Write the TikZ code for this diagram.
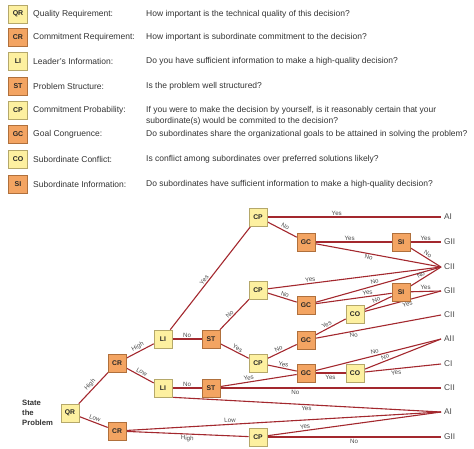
\documentclass[tikz,border=0pt]{standalone}
\usepackage{fontspec}
\setmainfont{Liberation Sans}
\usetikzlibrary{backgrounds}
\definecolor{ylw}{HTML}{FDF0A0}
\definecolor{ylwb}{HTML}{B5A86A}
\definecolor{org}{HTML}{F3A462}
\definecolor{orgb}{HTML}{B0703C}
\definecolor{ln}{HTML}{A3282E}
\definecolor{labc}{HTML}{4A4A4A}
\definecolor{txtc}{HTML}{333333}
\begin{document}
\begin{tikzpicture}[x=1pt,y=-1pt,
 boxbase/.style={line width=0.6pt, minimum width=18pt, minimum height=18pt, inner sep=0pt, font=\fontsize{6.8}{7}\selectfont\bfseries, text=black!85},
 ybox/.style={boxbase, draw=ylwb, fill=ylw},
 obox/.style={boxbase, draw=orgb, fill=org},
 kbox/.style={minimum width=19pt, minimum height=18pt, font=\fontsize{7}{7}\selectfont\bfseries},
 edge/.style={draw=ln, line width=1.1pt},
 lbl/.style={font=\fontsize{6.2}{6.5}\selectfont, text=labc, inner sep=1.2pt, sloped},
 outc/.style={anchor=west, font=\fontsize{8.3}{9}\selectfont, text=labc, inner xsep=3pt, inner ysep=0pt},
 legt/.style={anchor=west, font=\fontsize{8.5}{9}\selectfont, text=txtc, inner sep=0pt},
]
\useasboundingbox (0,0) rectangle (474,448);

% legend
\node[ybox,kbox] (kQR) at (18,14) {QR};
\node[legt] (nQR) at (33,14) {Quality Requirement:};
\node[legt] (qQR) at (146,14) {How important is the technical quality of this decision?};
\node[obox,kbox] (kCR) at (18,37) {CR};
\node[legt] (nCR) at (33,37) {Commitment Requirement:};
\node[legt] (qCR) at (146,37) {How important is subordinate commitment to the decision?};
\node[ybox,kbox] (kLI) at (18,61) {LI};
\node[legt] (nLI) at (33,61) {Leader’s Information:};
\node[legt] (qLI) at (146,61) {Do you have sufficient information to make a high-quality decision?};
\node[obox,kbox] (kST) at (18,86) {ST};
\node[legt] (nST) at (33,86) {Problem Structure:};
\node[legt] (qST) at (146,86) {Is the problem well structured?};
\node[ybox,kbox] (kCP) at (18,110) {CP};
\node[legt] (nCP) at (33,110) {Commitment Probability:};
\node[legt] (qCP) at (146,110) {If you were to make the decision by yourself, is it reasonably certain that your};
\node[legt] (qCPb) at (146,121.5) {subordinate(s) would be commited to the decision?};
\node[obox,kbox] (kGC) at (18,134) {GC};
\node[legt] (nGC) at (33,134) {Goal Congruence:};
\node[legt] (qGC) at (146,134) {Do subordinates share the organizational goals to be attained in solving the problem?};
\node[ybox,kbox] (kCO) at (18,159) {CO};
\node[legt] (nCO) at (33,159) {Subordinate Conflict:};
\node[legt] (qCO) at (146,159) {Is conflict among subordinates over preferred solutions likely?};
\node[obox,kbox] (kSI) at (18,184) {SI};
\node[legt] (nSI) at (33,184) {Subordinate Information:};
\node[legt] (qSI) at (146,184) {Do subordinates have sufficient information to make a high-quality decision?};

% start text
\node[anchor=west, align=left, font=\fontsize{7.7}{10}\selectfont\bfseries, text=txtc, inner sep=0pt] (start) at (22,413) {State\\the\\Problem};

% tree nodes
\node[ybox] (QR) at (70,413) {QR};
\node[obox] (CRh) at (117,363) {CR};
\node[obox] (CRl) at (117,431) {CR};
\node[ybox] (LIu) at (163,339) {LI};
\node[ybox] (LIl) at (163,388) {LI};
\node[obox] (STu) at (211,339) {ST};
\node[obox] (STl) at (211,388) {ST};
\node[ybox] (CP1) at (258,217) {CP};
\node[obox] (GC1) at (306,242) {GC};
\node[obox] (SI1) at (401,242) {SI};
\node[ybox] (CP2) at (258,290) {CP};
\node[obox] (GC2) at (306,305) {GC};
\node[obox] (SI2) at (401,292) {SI};
\node[ybox] (CO1) at (355,314) {CO};
\node[obox] (GC3) at (306,340) {GC};
\node[ybox] (CP3) at (258,363) {CP};
\node[obox] (GC4) at (306,373) {GC};
\node[ybox] (CO2) at (355,373) {CO};
\node[ybox] (CP4) at (258,437) {CP};

% outcomes
\node[outc] (AI1) at (441,217) {AI};
\node[outc] (GII1) at (441,242) {GII};
\node[outc] (CII1) at (441,267) {CII};
\node[outc] (GII2) at (441,291) {GII};
\node[outc] (CII2) at (441,315) {CII};
\node[outc] (AII) at (441,339) {AII};
\node[outc] (CI) at (441,364) {CI};
\node[outc] (CII3) at (441,388) {CII};
\node[outc] (AI2) at (441,412) {AI};
\node[outc] (GII3) at (441,437) {GII};

\begin{scope}[on background layer]
\draw[edge] (QR) -- node[lbl,above]{High} (CRh);
\draw[edge] (QR) -- node[lbl,above]{Low} (CRl);
\draw[edge] (CRh) -- node[lbl,above]{High} (LIu);
\draw[edge] (CRh) -- node[lbl,above]{Low} (LIl);
\draw[edge] (LIu) -- node[lbl,above]{No} (STu);
\draw[edge] (LIu) -- node[lbl,above,pos=0.46]{Yes} (CP1);
\draw[edge] (STu) -- node[lbl,above,pos=0.43]{No} (CP2);
\draw[edge] (STu) -- node[lbl,above,pos=0.55]{Yes} (CP3);
\draw[edge] (CP1) -- node[lbl,above,pos=0.4]{Yes} (AI1.west);
\draw[edge] (CP1) -- node[lbl,above,pos=0.55]{No} (GC1);
\draw[edge] (GC1) -- node[lbl,above,pos=0.45]{Yes} (SI1);
\draw[edge] (GC1) -- node[lbl,below,pos=0.43]{No} (CII1.west);
\draw[edge] (SI1) -- node[lbl,above,pos=0.5]{Yes} (GII1.west);
\draw[edge] (SI1) -- node[lbl,above,pos=0.5]{No} (CII1.west);
\draw[edge] (CP2) -- node[lbl,above,pos=0.25]{Yes} (CII1.west);
\draw[edge] (CP2) -- node[lbl,above,pos=0.56]{No} (GC2);
\draw[edge] (GC2) -- node[lbl,above,pos=0.48]{No} (CII1.west);
\draw[edge] (GC2) -- node[lbl,above,pos=0.69]{Yes} (SI2);
\draw[edge] (SI2) -- node[lbl,above,pos=0.41]{No} (CII1.west);
\draw[edge] (SI2) -- node[lbl,above,pos=0.5]{Yes} (GII2.west);
\draw[edge] (CO1) -- node[lbl,above,pos=0.5]{No} (SI2);
\draw[edge] (CO1) -- node[lbl,below,pos=0.55]{Yes} (GII2.west);
\draw[edge] (GC3) -- node[lbl,above,pos=0.43]{Yes} (CO1);
\draw[edge] (GC3) -- node[lbl,below,pos=0.3]{No} (CII2.west);
\draw[edge] (CP3) -- node[lbl,above,pos=0.44]{No} (GC3);
\draw[edge] (CP3) -- node[lbl,above,pos=0.52]{Yes} (GC4);
\draw[edge] (GC4) -- node[lbl,above,pos=0.48]{No} (AII.west);
\draw[edge] (GC4) -- node[lbl,below,pos=0.5]{Yes} (CO2);
\draw[edge] (CO2) -- node[lbl,above,pos=0.29]{No} (AII.west);
\draw[edge] (CO2) -- node[lbl,below,pos=0.41]{Yes} (CI.west);
\draw[edge] (LIl) -- node[lbl,above]{No} (STl);
\draw[edge] (LIl.south east) -- node[lbl,below,pos=0.5]{Yes} (AI2.west);
\draw[edge] (STl) -- node[lbl,above,pos=0.38]{Yes} (GC4);
\draw[edge] (STl) -- node[lbl,below,pos=0.34]{No} (CII3.west);
\draw[edge] (CRl) -- node[lbl,above,pos=0.33]{Low} (AI2.west);
\draw[edge] (CRl) -- node[lbl,below,pos=0.5]{High} (CP4);
\draw[edge] (CP4) -- node[lbl,above,pos=0.22]{Yes} (AI2.west);
\draw[edge] (CP4) -- node[lbl,below,pos=0.5]{No} (GII3.west);
\end{scope}
\end{tikzpicture}
\end{document}
